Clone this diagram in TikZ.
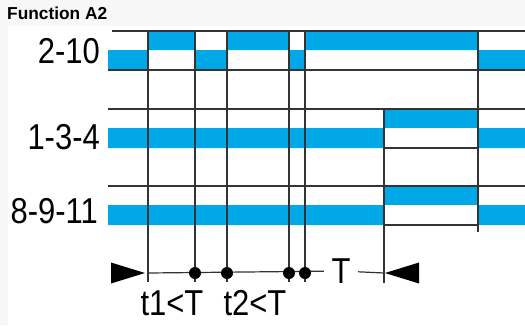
\documentclass[tikz,border=0pt]{standalone}
\usepackage{fontspec}
\setmainfont{Liberation Sans}
\newfontfamily\narrowsans[FakeStretch=0.86]{Liberation Sans}
\definecolor{relayblue}{RGB}{0,168,232}
\definecolor{panelgray}{RGB}{247,247,247}
\tikzstyle{contact on} = [fill=relayblue]
\tikzstyle{grid line} = [draw=black!80, line width=1.2pt]
\tikzstyle{pin label} = [font=\narrowsans\fontsize{36}{36}\selectfont, inner sep=0pt]
\tikzstyle{time dot} = [circle, fill=black, inner sep=0pt, minimum size=12pt]
\tikzstyle{time arrow} = [fill=black]

\begin{document}
\begin{tikzpicture}[x=1pt,y=-1pt]
  \useasboundingbox (0,0) rectangle (525,325);
  \fill[panelgray] (0,0) rectangle (525,325);
  \fill[white] (8,26) rectangle (525,325);
  \node[anchor=base west, inner sep=0pt, font=\bfseries\fontsize{17.3}{17.3}\selectfont] (title) at (7,19) {Function A2};

  % contact 2-10
  \fill[contact on] (148,31) rectangle (195,50) (228,31) rectangle (289,50) (305,31) rectangle (478,50);
  \fill[contact on] (108,50) rectangle (148,70) (195,50) rectangle (228,70) (289,50) rectangle (305,70) (478,50) rectangle (525,70);
  % contacts 1-3-4 and 8-9-11
  \foreach \y in {109,186} {
    \fill[contact on] (384,\y) rectangle (478,\y+19);
    \fill[contact on] (108,\y+19) rectangle (384,\y+39) (478,\y+19) rectangle (525,\y+39);
  }

  % grid
  \draw[grid line] (112,31) -- (525,31) (108,70) -- (525,70) (108,109) -- (525,109)
    (384,148) -- (478,148) (108,186) -- (525,186) (384,225) -- (478,225);
  \foreach \x in {148,195,227,289,305}
    \draw[grid line] (\x,31) -- (\x,282);
  \draw[grid line] (384,109) -- (384,283);
  \draw[grid line] (478,31) -- (478,232);

  \node[pin label, anchor=base east] (pin210) at (100,63) {2-10};
  \node[pin label, anchor=base east] (pin134) at (100,149) {1-3-4};
  \node[pin label, anchor=base east] (pin8911) at (98,223) {8-9-11};

  % time axis
  \coordinate (start) at (148,273);
  \coordinate (stop) at (384,273);
  \node[pin label, inner xsep=7.5pt] (tee) at (341,271) {T};
  \draw[grid line] (start) -- (tee) -- (stop);
  \fill[time arrow] (start) ++(-3,0) -- ++(-34,-10.5) -- ++(0,21) -- cycle;
  \fill[time arrow] (stop) ++(1,0) -- ++(34,-10.5) -- ++(0,21) -- cycle;
  \foreach \x in {195,227,289,305}
    \node[time dot] (dot\x) at (\x,273) {};

  \node[pin label, anchor=base] (t1lbl) at (172,315) {t1<T};
  \node[pin label, anchor=base] (t2lbl) at (255,315) {t2<T};
\end{tikzpicture}
\end{document}
